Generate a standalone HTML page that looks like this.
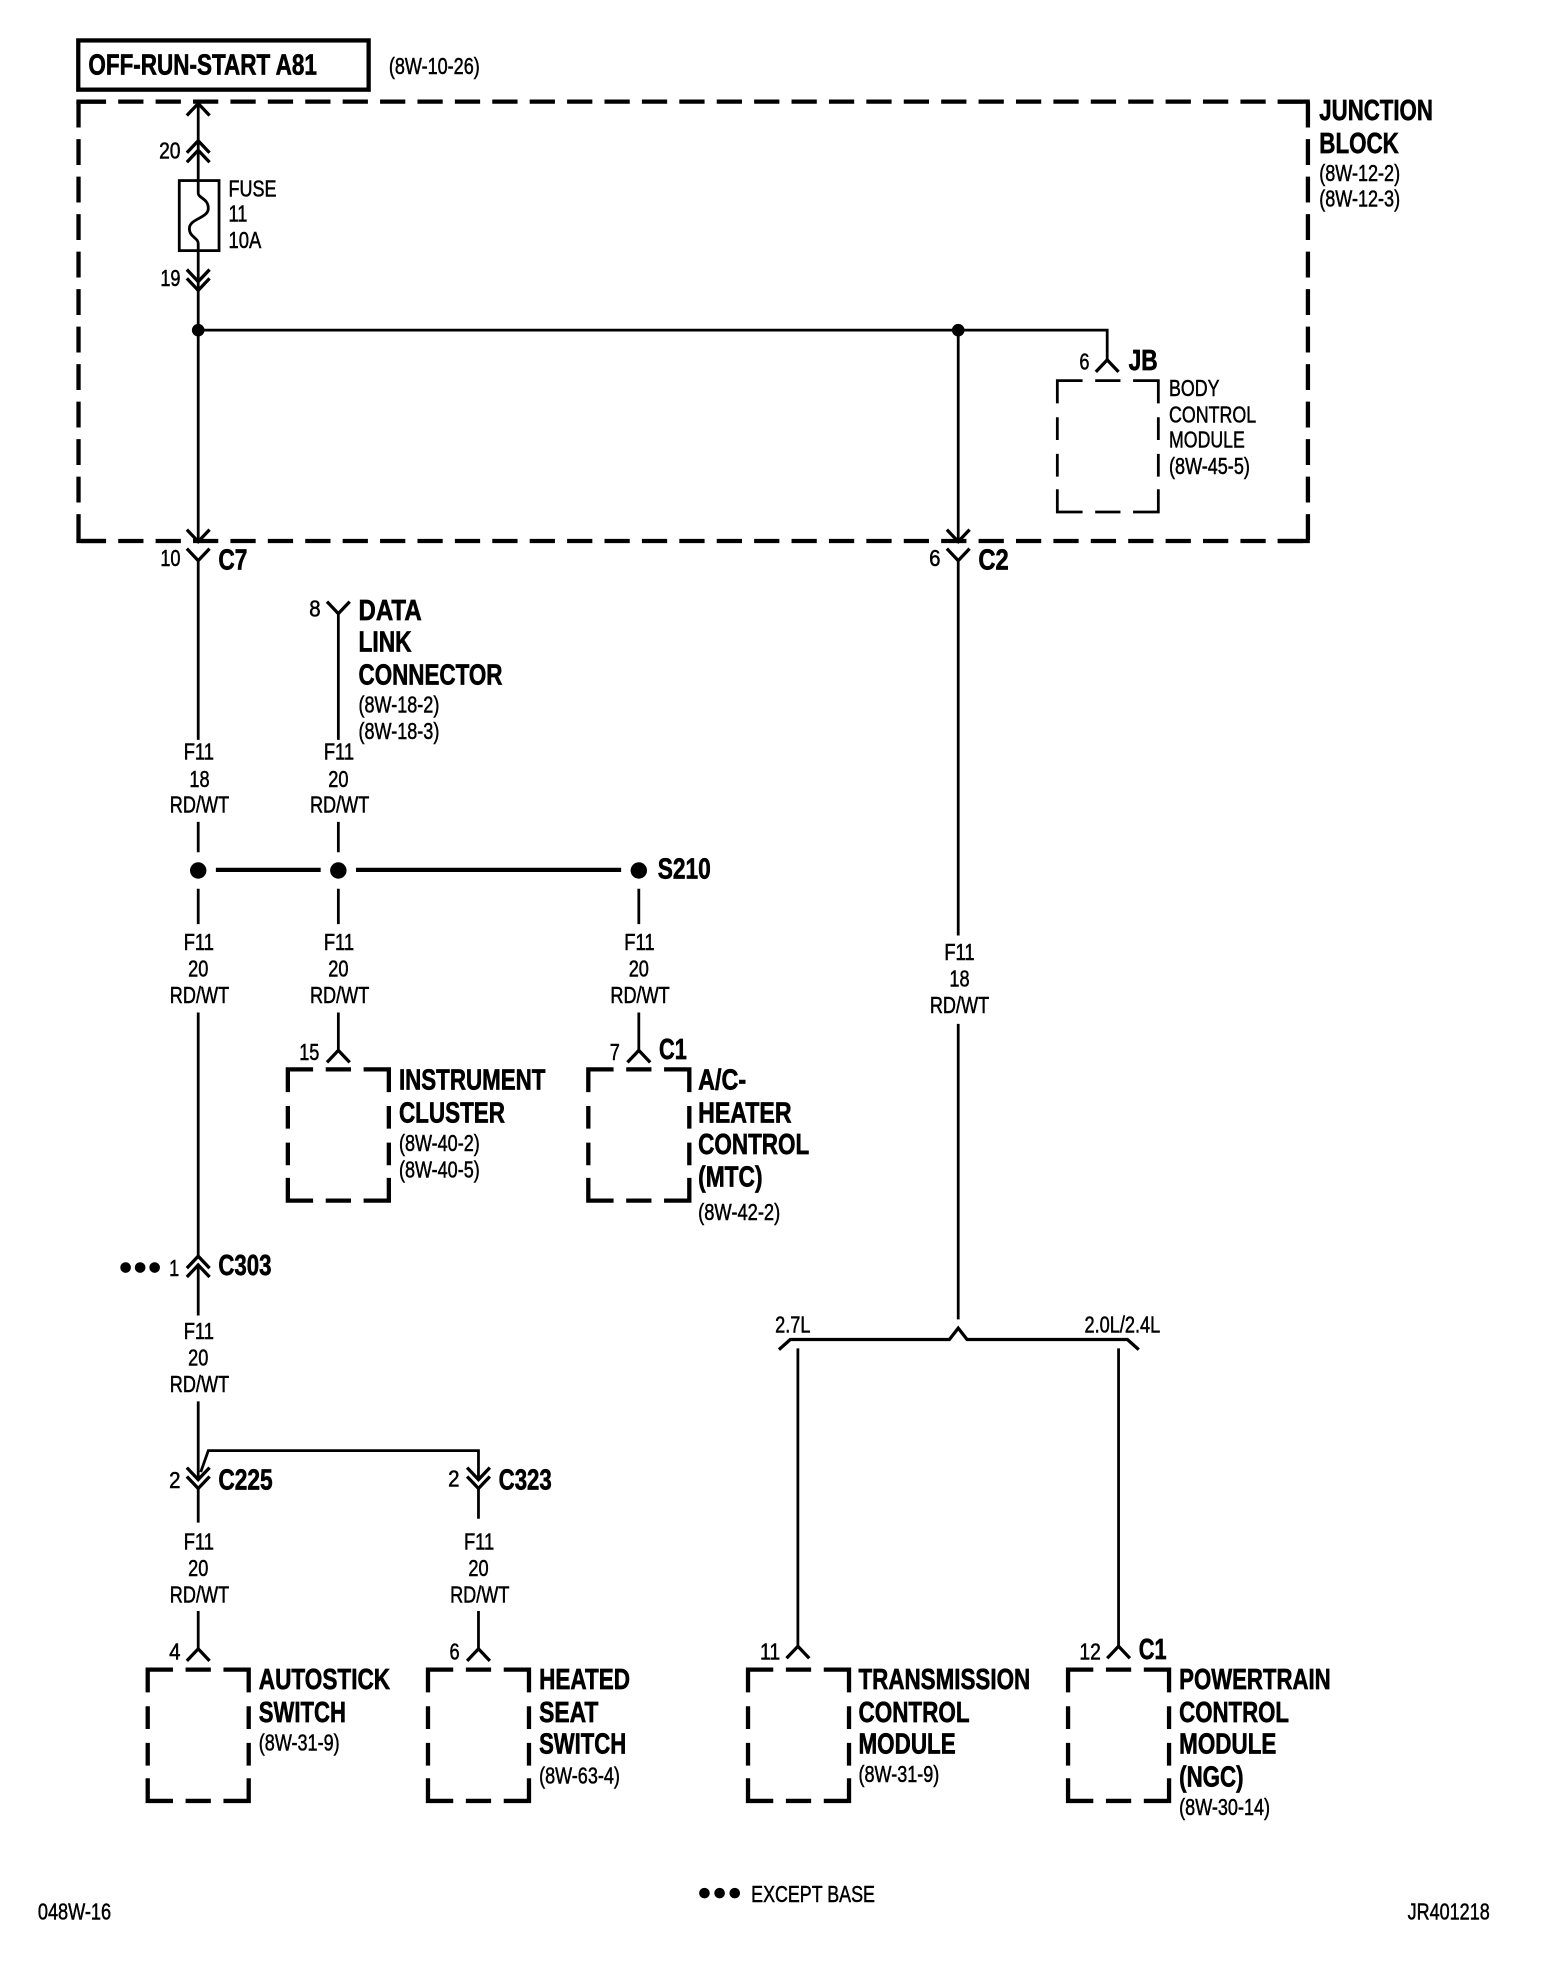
<!DOCTYPE html>
<html><head><meta charset="utf-8"><title>Wiring diagram</title>
<style>
html,body{margin:0;padding:0;background:#fff}
svg{display:block}
text{font-family:"Liberation Sans",sans-serif;fill:#000;stroke:#000;stroke-width:.4;transform:translateY(-.5px)}
.s{font-size:18px}
.b{font-size:22.5px;font-weight:bold;stroke-width:.5;transform:translateY(-1px)}
.m{text-anchor:middle}
.w{fill:none;stroke:#000;stroke-width:2.2}
.t{fill:none;stroke:#000;stroke-width:3.4}
.c{fill:none;stroke:#000;stroke-width:2.6}
</style></head><body>
<svg xmlns="http://www.w3.org/2000/svg" width="1568" height="1980" viewBox="0 -1 1242 1568.3">
<defs>
<path id="bx" d="M0,18V0H20M30,0H50M60,0H80V18M0,29V47M0,58V76M0,86V104H20M30,104H50M60,104H80V86M80,29V47M80,58V76"/>
<path id="up" d="M-9,9.5L0,0L9,9.5"/>
<path id="dn" d="M-9,-9.5L0,0L9,-9.5"/>
</defs>
<rect y="-2" width="1242" height="1572" fill="#fff" stroke="none"/>

<!-- top box -->
<rect x="62" y="31" width="230" height="39" class="t"/>
<text class="b" x="70" y="59" textLength="181" lengthAdjust="spacingAndGlyphs">OFF-RUN-START A81</text>
<text class="s" x="308" y="58" textLength="72" lengthAdjust="spacingAndGlyphs">(8W-10-26)</text>

<!-- junction block dashed -->
<g class="t">
<path d="M64,79.5H1034" stroke-dasharray="20 9.63"/>
<path d="M64,427.5H1034" stroke-dasharray="20 9.63"/>
<path d="M60.5,79.5H84M1012,79.5H1037.5M60.5,427.5H84M1012,427.5H1037.5"/>
<path d="M62.2,79.5V427.5" stroke-dasharray="20.5 9.2"/>
<path d="M1036,79.5V427.5" stroke-dasharray="20.5 9.2"/>
</g>
<text class="b" x="1045" y="95" textLength="90" lengthAdjust="spacingAndGlyphs">JUNCTION</text>
<text class="b" x="1045" y="121" textLength="63" lengthAdjust="spacingAndGlyphs">BLOCK</text>
<text class="s" x="1045" y="143" textLength="64" lengthAdjust="spacingAndGlyphs">(8W-12-2)</text>
<text class="s" x="1045" y="163" textLength="64" lengthAdjust="spacingAndGlyphs">(8W-12-3)</text>

<!-- fuse wire -->
<path class="w" d="M157,80V142"/>
<use href="#up" x="157" y="81" class="c"/>
<use href="#up" x="157" y="110.5" class="c"/>
<use href="#up" x="157" y="118" class="c"/>
<rect x="142" y="142" width="31.5" height="55.5" class="w"/>
<path class="w" d="M157,142V152C157,156 165,156 165,164C165,172 150,172 150,180C150,187 157,187 157,192V198"/>
<path class="w" d="M157,198V428"/>
<use href="#dn" x="157" y="222" class="c"/>
<use href="#dn" x="157" y="229" class="c"/>
<text class="s" x="126" y="125" textLength="17" lengthAdjust="spacingAndGlyphs">20</text>
<text class="s" x="127" y="226" textLength="16" lengthAdjust="spacingAndGlyphs">19</text>
<text class="s" x="181" y="155" textLength="38" lengthAdjust="spacingAndGlyphs">FUSE</text>
<text class="s" x="181" y="175" textLength="15" lengthAdjust="spacingAndGlyphs">11</text>
<text class="s" x="181" y="196" textLength="26" lengthAdjust="spacingAndGlyphs">10A</text>

<circle cx="157" cy="260.5" r="5"/>
<circle cx="759" cy="260.5" r="5"/>
<path class="w" d="M157,260.5H877V284"/>
<path class="w" d="M759,260.5V428"/>
<use href="#up" x="877" y="284" class="c"/>
<text class="s" x="855" y="292" textLength="8" lengthAdjust="spacingAndGlyphs">6</text>
<text class="b" x="894" y="293" textLength="23" lengthAdjust="spacingAndGlyphs">JB</text>
<use href="#bx" x="837.5" y="300.5" class="w"/>
<text class="s" x="926" y="313" textLength="40" lengthAdjust="spacingAndGlyphs">BODY</text>
<text class="s" x="926" y="334" textLength="69" lengthAdjust="spacingAndGlyphs">CONTROL</text>
<text class="s" x="926" y="354" textLength="60" lengthAdjust="spacingAndGlyphs">MODULE</text>
<text class="s" x="926" y="375" textLength="64" lengthAdjust="spacingAndGlyphs">(8W-45-5)</text>

<!-- C7 / C2 -->
<use href="#dn" x="157" y="428" class="c"/>
<use href="#dn" x="157" y="443" class="c"/>
<use href="#dn" x="759" y="428" class="c"/>
<use href="#dn" x="759" y="443" class="c"/>
<path class="w" d="M157,443V585M759,443V740M759,810V1044"/>
<text class="s" x="127" y="448" textLength="16" lengthAdjust="spacingAndGlyphs">10</text>
<text class="b" x="173" y="451" textLength="23" lengthAdjust="spacingAndGlyphs">C7</text>
<text class="s" x="736" y="448" textLength="9" lengthAdjust="spacingAndGlyphs">6</text>
<text class="b" x="775" y="451" textLength="24" lengthAdjust="spacingAndGlyphs">C2</text>

<!-- data link -->
<use href="#dn" x="268" y="485" class="c"/>
<path class="w" d="M268,485V585"/>
<text class="s" x="245" y="488" textLength="9" lengthAdjust="spacingAndGlyphs">8</text>
<text class="b" x="284" y="491" textLength="50" lengthAdjust="spacingAndGlyphs">DATA</text>
<text class="b" x="284" y="516" textLength="42" lengthAdjust="spacingAndGlyphs">LINK</text>
<text class="b" x="284" y="542" textLength="114" lengthAdjust="spacingAndGlyphs">CONNECTOR</text>
<text class="s" x="284" y="564" textLength="64" lengthAdjust="spacingAndGlyphs">(8W-18-2)</text>
<text class="s" x="284" y="585" textLength="64" lengthAdjust="spacingAndGlyphs">(8W-18-3)</text>

<!-- wire labels -->
<text class="s m" x="157.5" y="601" textLength="24" lengthAdjust="spacingAndGlyphs">F11</text>
<text class="s m" x="158" y="623" textLength="16" lengthAdjust="spacingAndGlyphs">18</text>
<text class="s m" x="158" y="643" textLength="47" lengthAdjust="spacingAndGlyphs">RD/WT</text>
<text class="s m" x="268.5" y="601" textLength="24" lengthAdjust="spacingAndGlyphs">F11</text>
<text class="s m" x="268" y="623" textLength="16" lengthAdjust="spacingAndGlyphs">20</text>
<text class="s m" x="269" y="643" textLength="47" lengthAdjust="spacingAndGlyphs">RD/WT</text>

<text class="s m" x="157.5" y="752" textLength="24" lengthAdjust="spacingAndGlyphs">F11</text>
<text class="s m" x="157" y="773" textLength="16" lengthAdjust="spacingAndGlyphs">20</text>
<text class="s m" x="158" y="794" textLength="47" lengthAdjust="spacingAndGlyphs">RD/WT</text>
<text class="s m" x="268.5" y="752" textLength="24" lengthAdjust="spacingAndGlyphs">F11</text>
<text class="s m" x="268" y="773" textLength="16" lengthAdjust="spacingAndGlyphs">20</text>
<text class="s m" x="269" y="794" textLength="47" lengthAdjust="spacingAndGlyphs">RD/WT</text>
<text class="s m" x="506.5" y="752" textLength="24" lengthAdjust="spacingAndGlyphs">F11</text>
<text class="s m" x="506" y="773" textLength="16" lengthAdjust="spacingAndGlyphs">20</text>
<text class="s m" x="507" y="794" textLength="47" lengthAdjust="spacingAndGlyphs">RD/WT</text>

<text class="s m" x="760" y="760" textLength="24" lengthAdjust="spacingAndGlyphs">F11</text>
<text class="s m" x="760" y="781" textLength="16" lengthAdjust="spacingAndGlyphs">18</text>
<text class="s m" x="760" y="802" textLength="47" lengthAdjust="spacingAndGlyphs">RD/WT</text>

<text class="s m" x="157.5" y="1060" textLength="24" lengthAdjust="spacingAndGlyphs">F11</text>
<text class="s m" x="157" y="1081" textLength="16" lengthAdjust="spacingAndGlyphs">20</text>
<text class="s m" x="158" y="1102" textLength="47" lengthAdjust="spacingAndGlyphs">RD/WT</text>

<text class="s m" x="157.5" y="1227" textLength="24" lengthAdjust="spacingAndGlyphs">F11</text>
<text class="s m" x="157" y="1248" textLength="16" lengthAdjust="spacingAndGlyphs">20</text>
<text class="s m" x="158" y="1269" textLength="47" lengthAdjust="spacingAndGlyphs">RD/WT</text>
<text class="s m" x="379.5" y="1227" textLength="24" lengthAdjust="spacingAndGlyphs">F11</text>
<text class="s m" x="379" y="1248" textLength="16" lengthAdjust="spacingAndGlyphs">20</text>
<text class="s m" x="380" y="1269" textLength="47" lengthAdjust="spacingAndGlyphs">RD/WT</text>

<!-- splice -->
<path class="w" d="M157,650V674M268,650V674M157,703V731M268,703V731M506,703V731"/>
<path class="t" d="M171,688H254M282,688H492"/>
<circle cx="157" cy="688.5" r="6.5"/>
<circle cx="268" cy="688.5" r="6.5"/>
<circle cx="506" cy="688.5" r="6.5"/>
<text class="b" x="521" y="696" textLength="42" lengthAdjust="spacingAndGlyphs">S210</text>

<!-- instrument cluster & A/C -->
<path class="w" d="M268,801V831M506,801V831"/>
<use href="#up" x="268" y="831" class="c"/>
<use href="#up" x="506" y="831" class="c"/>
<text class="s" x="237" y="839" textLength="16" lengthAdjust="spacingAndGlyphs">15</text>
<text class="s" x="483" y="839" textLength="8" lengthAdjust="spacingAndGlyphs">7</text>
<text class="b" x="522" y="839" textLength="22" lengthAdjust="spacingAndGlyphs">C1</text>
<use href="#bx" x="228" y="846" class="t"/>
<use href="#bx" x="466" y="846" class="t"/>
<text class="b" x="316" y="863" textLength="116" lengthAdjust="spacingAndGlyphs">INSTRUMENT</text>
<text class="b" x="316" y="889" textLength="84" lengthAdjust="spacingAndGlyphs">CLUSTER</text>
<text class="s" x="316" y="911" textLength="64" lengthAdjust="spacingAndGlyphs">(8W-40-2)</text>
<text class="s" x="316" y="932" textLength="64" lengthAdjust="spacingAndGlyphs">(8W-40-5)</text>
<text class="b" x="553" y="863" textLength="38" lengthAdjust="spacingAndGlyphs">A/C-</text>
<text class="b" x="553" y="889" textLength="74" lengthAdjust="spacingAndGlyphs">HEATER</text>
<text class="b" x="553" y="914" textLength="88" lengthAdjust="spacingAndGlyphs">CONTROL</text>
<text class="b" x="553" y="940" textLength="51" lengthAdjust="spacingAndGlyphs">(MTC)</text>
<text class="s" x="553" y="966" textLength="65" lengthAdjust="spacingAndGlyphs">(8W-42-2)</text>

<!-- C303 -->
<path class="w" d="M157,801V994M157,1000V1041"/>
<use href="#up" x="157" y="994" class="c"/>
<use href="#up" x="157" y="1001" class="c"/>
<circle cx="99.5" cy="1003" r="4.2"/><circle cx="111" cy="1003" r="4.2"/><circle cx="122.5" cy="1003" r="4.2"/>
<text class="s" x="134" y="1010" textLength="8" lengthAdjust="spacingAndGlyphs">1</text>
<text class="b" x="173" y="1010" textLength="42" lengthAdjust="spacingAndGlyphs">C303</text>

<!-- C225 / C323 -->
<path class="w" d="M157,1109V1171M159,1165L165,1148H379V1171"/>
<use href="#dn" x="157" y="1171" class="c"/>
<use href="#dn" x="157" y="1178" class="c"/>
<use href="#dn" x="379" y="1171" class="c"/>
<use href="#dn" x="379" y="1178" class="c"/>
<path class="w" d="M157,1178V1205M379,1178V1202M157,1275V1305M379,1275V1305"/>
<text class="s" x="134" y="1178" textLength="9" lengthAdjust="spacingAndGlyphs">2</text>
<text class="b" x="173" y="1180" textLength="43" lengthAdjust="spacingAndGlyphs">C225</text>
<text class="s" x="355" y="1177" textLength="9" lengthAdjust="spacingAndGlyphs">2</text>
<text class="b" x="395" y="1180" textLength="42" lengthAdjust="spacingAndGlyphs">C323</text>

<!-- 2.7L / 2.0L branch -->
<text class="s" x="614" y="1055" textLength="28" lengthAdjust="spacingAndGlyphs">2.7L</text>
<text class="s" x="859" y="1055" textLength="60" lengthAdjust="spacingAndGlyphs">2.0L/2.4L</text>
<path class="c" d="M617,1068L626,1060H752L759,1051L766,1060H893L902,1068"/>
<path class="w" d="M632,1067V1303M886,1067V1303"/>

<!-- lower connectors -->
<use href="#up" x="157" y="1305" class="c"/>
<use href="#up" x="379" y="1305" class="c"/>
<use href="#up" x="632" y="1303" class="c"/>
<use href="#up" x="886" y="1303" class="c"/>
<text class="s" x="134" y="1314" textLength="9" lengthAdjust="spacingAndGlyphs">4</text>
<text class="s" x="356" y="1314" textLength="8" lengthAdjust="spacingAndGlyphs">6</text>
<text class="s" x="602" y="1314" textLength="16" lengthAdjust="spacingAndGlyphs">11</text>
<text class="s" x="855" y="1314" textLength="17" lengthAdjust="spacingAndGlyphs">12</text>
<text class="b" x="902" y="1314" textLength="22" lengthAdjust="spacingAndGlyphs">C1</text>

<use href="#bx" x="117" y="1321.5" class="t"/>
<use href="#bx" x="339" y="1321.5" class="t"/>
<use href="#bx" x="592.5" y="1321.5" class="t"/>
<use href="#bx" x="846" y="1321.5" class="t"/>

<text class="b" x="205" y="1338" textLength="104" lengthAdjust="spacingAndGlyphs">AUTOSTICK</text>
<text class="b" x="205" y="1364" textLength="69" lengthAdjust="spacingAndGlyphs">SWITCH</text>
<text class="s" x="205" y="1386" textLength="64" lengthAdjust="spacingAndGlyphs">(8W-31-9)</text>

<text class="b" x="427" y="1338" textLength="72" lengthAdjust="spacingAndGlyphs">HEATED</text>
<text class="b" x="427" y="1364" textLength="47" lengthAdjust="spacingAndGlyphs">SEAT</text>
<text class="b" x="427" y="1389" textLength="69" lengthAdjust="spacingAndGlyphs">SWITCH</text>
<text class="s" x="427" y="1412" textLength="64" lengthAdjust="spacingAndGlyphs">(8W-63-4)</text>

<text class="b" x="680" y="1338" textLength="136" lengthAdjust="spacingAndGlyphs">TRANSMISSION</text>
<text class="b" x="680" y="1364" textLength="88" lengthAdjust="spacingAndGlyphs">CONTROL</text>
<text class="b" x="680" y="1389" textLength="77" lengthAdjust="spacingAndGlyphs">MODULE</text>
<text class="s" x="680" y="1411" textLength="64" lengthAdjust="spacingAndGlyphs">(8W-31-9)</text>

<text class="b" x="934" y="1338" textLength="120" lengthAdjust="spacingAndGlyphs">POWERTRAIN</text>
<text class="b" x="934" y="1364" textLength="87" lengthAdjust="spacingAndGlyphs">CONTROL</text>
<text class="b" x="934" y="1389" textLength="77" lengthAdjust="spacingAndGlyphs">MODULE</text>
<text class="b" x="934" y="1415" textLength="51" lengthAdjust="spacingAndGlyphs">(NGC)</text>
<text class="s" x="934" y="1437" textLength="72" lengthAdjust="spacingAndGlyphs">(8W-30-14)</text>

<!-- footer -->
<circle cx="558" cy="1498.5" r="4.2"/><circle cx="570" cy="1498.5" r="4.2"/><circle cx="582" cy="1498.5" r="4.2"/>
<text class="s" x="595" y="1506" textLength="98" lengthAdjust="spacingAndGlyphs">EXCEPT BASE</text>
<text class="s" x="30" y="1520" textLength="58" lengthAdjust="spacingAndGlyphs">048W-16</text>
<text class="s" x="1115" y="1520" textLength="65" lengthAdjust="spacingAndGlyphs">JR401218</text>
</svg>
</body></html>
